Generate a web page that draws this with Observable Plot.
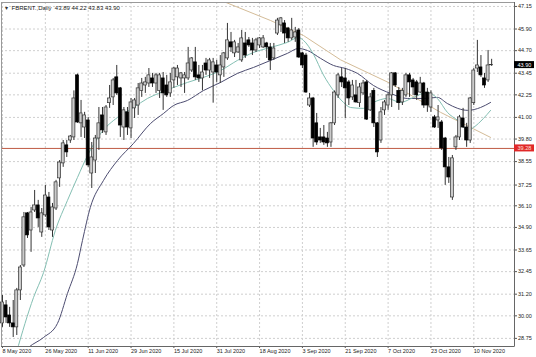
<!DOCTYPE html>
<html><head><meta charset="utf-8">
<script src="https://cdn.jsdelivr.net/npm/d3@7"></script>
<script src="https://cdn.jsdelivr.net/npm/@observablehq/plot@0.6"></script>
<style>body{margin:0;background:#fff;} #chart{width:536px;height:357px;}</style>
</head><body><div id="chart"></div>
<script>
const titleText = "FBRENT.,Daily  43.89 44.22 43.83 43.90";
const openP = [29.58,30.58,30.02,29.58,29.36,31.41,32.79,35.68,34.73,35.84,36.12,34.62,35.57,36.56,34.73,35.95,37.62,38.45,39.45,39.72,
39.89,43.33,40.67,40.44,40.83,37.89,38.61,39.83,41.11,40.17,41.79,42.11,43.22,42.61,40.44,41.28,40.39,41.50,41.66,42.47,
42.77,42.88,43.16,42.88,42.47,43.16,42.77,42.33,43.05,43.22,43.16,43.16,43.16,43.60,44.05,43.33,43.16,43.99,43.60,43.49,
43.88,43.33,43.77,44.27,45.16,44.55,44.60,44.16,45.10,45.27,45.10,44.71,44.99,44.88,45.10,44.88,44.27,45.65,46.10,46.21,
45.93,45.38,45.43,45.82,44.55,44.43,41.66,42.05,40.67,39.89,39.89,39.83,39.61,40.67,42.22,43.22,43.16,42.94,42.11,42.22,
41.79,42.33,42.94,41.39,42.47,40.67,39.72,41.39,41.66,42.22,43.44,42.47,41.83,42.22,43.33,43.05,42.94,42.38,42.88,42.38,
41.55,41.00,40.83,40.72,39.83,38.23,36.56,39.34,39.89,40.94,40.44,39.72,41.79,43.71,43.77,43.16,43.05,43.89];
const highP = [31.13,30.85,30.47,30.85,31.52,32.79,35.73,35.73,36.01,36.95,36.40,35.95,37.23,36.84,36.23,37.51,38.61,39.72,39.72,40.00,
42.47,43.40,41.94,41.28,41.00,39.61,40.00,41.55,41.55,41.66,42.77,43.16,43.88,42.66,41.55,41.55,42.05,42.05,42.88,43.16,
43.22,43.71,43.44,43.44,43.44,43.49,43.33,43.44,43.77,43.88,43.49,43.49,44.88,44.32,44.88,43.88,43.88,44.27,44.27,44.27,
44.16,44.43,44.60,46.21,45.71,45.27,45.10,45.82,45.71,45.43,45.38,45.38,45.43,45.54,45.16,45.10,45.10,46.49,46.54,46.37,
45.99,46.49,45.99,45.93,44.60,44.55,42.33,42.11,41.22,40.39,40.55,40.17,40.72,42.47,43.44,43.71,43.71,43.05,43.05,43.05,
42.88,43.05,43.05,42.33,42.61,40.72,41.55,41.94,42.33,43.49,43.49,42.66,42.61,43.44,43.44,43.16,43.05,43.22,42.94,42.61,
42.47,41.11,41.66,40.83,39.89,38.78,38.89,40.00,41.11,41.50,40.67,42.11,43.71,45.27,44.43,43.44,44.71,44.22];
const lowP = [29.36,29.58,29.36,28.80,28.91,30.85,32.68,34.29,33.52,35.73,34.90,34.35,35.46,34.73,34.35,35.84,37.12,38.23,38.78,39.56,
39.72,40.67,39.89,39.83,38.23,37.06,37.89,39.17,40.11,40.00,41.50,41.66,42.22,39.89,39.72,40.00,39.83,40.94,41.11,42.11,
42.33,42.66,42.66,42.33,42.05,41.39,42.11,42.11,42.61,42.77,42.66,42.33,43.05,43.49,43.05,42.94,42.47,43.33,43.16,41.79,
42.94,42.88,43.22,44.16,44.60,44.32,44.55,44.05,44.27,44.88,44.43,44.60,44.82,44.82,44.27,43.60,44.16,45.54,45.71,45.10,
45.16,45.27,45.16,44.27,43.71,42.33,41.55,39.34,39.45,39.56,39.45,39.34,39.34,40.55,42.05,42.66,40.94,41.66,41.94,41.79,
41.55,42.22,40.83,41.33,40.44,38.78,39.56,41.11,41.39,41.55,42.66,41.39,41.66,42.11,42.11,42.22,41.94,42.33,41.50,41.28,
41.28,40.39,40.39,39.17,37.23,37.34,36.40,39.17,39.72,40.39,39.34,39.56,41.66,43.49,43.22,42.61,42.94,43.83];
const closeP = [30.74,29.91,29.58,29.36,31.41,32.68,35.46,34.46,35.73,36.12,35.40,35.68,36.67,34.90,36.01,37.40,38.50,39.56,39.06,39.94,
42.05,40.72,41.22,41.11,38.34,38.78,39.83,40.67,40.28,41.55,42.05,43.05,42.33,40.55,41.39,40.44,41.83,41.94,42.61,42.88,
42.94,43.33,42.88,43.33,43.33,42.33,42.22,42.94,43.71,43.71,43.44,43.33,43.99,44.27,43.22,43.16,43.49,43.60,44.16,44.05,
43.49,43.88,44.55,45.27,44.88,45.16,44.88,45.38,44.43,44.99,44.71,45.27,45.38,45.38,44.88,44.16,44.82,46.37,46.49,45.65,
45.38,45.82,45.71,44.32,43.88,42.38,42.05,39.83,39.61,39.72,39.61,39.56,40.67,42.38,43.33,42.94,42.61,42.05,42.77,41.83,
42.66,42.88,40.88,42.11,40.67,39.06,41.28,41.83,42.22,43.44,42.77,41.79,42.47,43.33,42.94,42.66,42.22,42.88,41.66,41.66,
42.33,40.44,41.00,39.28,38.23,37.67,38.73,39.89,41.00,40.44,39.72,42.05,43.60,43.88,43.33,42.77,43.88,43.90];

const dateTickIdx = [0,12,24,36,48,60,72,84,96,108,120,132];
const dateTickLabels = ["8 May 2020","26 May 2020","11 Jun 2020","29 Jun 2020","15 Jul 2020","31 Jul 2020","18 Aug 2020","3 Sep 2020","21 Sep 2020","7 Oct 2020","23 Oct 2020","10 Nov 2020"];
const priceTicks = [47.15,45.90,44.70,43.45,42.25,41.00,39.80,38.55,37.25,36.10,34.90,33.65,32.45,31.20,30.00,28.75];

const fastMaIdx = [3.9,8.7,11.5,14.8,18.2,21.0,24.1,27.5,32.2,36.7,40.6,43.7,47.9,51.8,56.3,61.1,65.8,70.3,75.1,79.8,82.9,84.3,87.1,89.9,92.7,95.5,97.5,101.1,103.9,107.8,111.5,115.1,119.0,121.8,124.6,127.5,130.5,131.9,134.7,136.7];
const fastMaVal = [27.97,31.02,32.40,34.73,36.40,37.67,39.00,40.11,41.00,41.55,42.05,42.33,42.66,42.94,43.22,43.60,44.16,44.60,44.88,45.16,45.43,45.27,44.50,43.35,42.49,41.83,41.55,41.50,41.83,42.05,41.83,42.11,42.38,42.05,41.28,40.83,40.28,40.44,40.94,41.39];
const slowMaIdx = [5.5,7.3,11.5,15.4,18.2,21.0,22.4,24.6,28.3,32.2,36.7,41.5,45.1,47.9,51.8,56.3,61.1,65.8,70.3,75.1,79.8,82.9,85.4,89.1,92.7,96.1,99.4,103.9,108.7,113.4,117.9,121.8,124.6,127.5,130.3,133.9,136.7];
const slowMaVal = [27.90,28.25,28.80,29.58,31.24,32.90,34.18,36.01,37.51,38.61,39.56,40.67,41.22,41.66,41.94,42.49,42.94,43.44,43.77,44.16,44.55,44.82,44.71,44.27,43.88,43.71,43.44,42.77,42.33,42.05,42.05,42.11,41.77,41.50,41.39,41.55,41.83];
const trendIdx = [58.3,61.6,75.1,84.3,94.7,108.7,122.7,136.7];
const trendVal = [47.76,47.45,46.37,45.54,44.19,42.88,41.28,39.89];
const levelLine = [39.28];
const lastPrice = [43.90];

const candles = openP.map((o, i) => ({i, open: o, high: highP[i], low: lowP[i], close: closeP[i]}));
const bulls = candles.filter(d => d.close >= d.open);
const bears = candles.filter(d => d.close < d.open);
const fastMa = fastMaIdx.map((x, k) => ({x, y: fastMaVal[k]}));
const slowMa = slowMaIdx.map((x, k) => ({x, y: slowMaVal[k]}));
const trend = trendIdx.map((x, k) => ({x, y: trendVal[k]}));
const xMax = 143.4;

const chart = Plot.plot({
  width: 536, height: 357,
  marginLeft: 1, marginRight: 22, marginTop: 2, marginBottom: 11,
  style: {fontFamily: "'Liberation Sans', Arial, sans-serif", fontSize: "5.5px", background: "#fff", color: "#222"},
  x: {domain: [-0.28, xMax], axis: null},
  y: {domain: [28.30, 47.37], axis: null},
  marks: [
    Plot.gridX(dateTickIdx, {stroke: "#cfcfcf", strokeOpacity: 1, strokeDasharray: "2,2"}),
    Plot.gridY(priceTicks, {stroke: "#cfcfcf", strokeOpacity: 1, strokeDasharray: "2,2"}),
    Plot.ruleY(levelLine, {stroke: "#bf5a44", strokeWidth: 1}),
    Plot.line(trend, {x: "x", y: "y", stroke: "#d4bc98", strokeWidth: 1, clip: true}),
    Plot.line(slowMa, {x: "x", y: "y", stroke: "#4c4c70", strokeWidth: 1, clip: true, curve: "monotone-x"}),
    Plot.line(fastMa, {x: "x", y: "y", stroke: "#84bfb3", strokeWidth: 1, clip: true, curve: "monotone-x"}),
    Plot.ruleX(candles, {x: "i", y1: "low", y2: "high", stroke: "#333", strokeWidth: 1}),
    Plot.rect(bulls, {x1: d => d.i - 0.42, x2: d => d.i + 0.42, y1: "open", y2: "close", fill: "#cbcbcb", stroke: "#333", strokeWidth: 0.7}),
    Plot.rect(bears, {x1: d => d.i - 0.42, x2: d => d.i + 0.42, y1: "open", y2: "close", fill: "#000", stroke: "#000", strokeWidth: 0.7}),
    Plot.frame({stroke: "#9a9a9a"}),
    Plot.axisY({anchor: "right", ticks: priceTicks, tickFormat: d3.format(".2f"), tickSize: 2, tickPadding: 1.5, stroke: "#555"}),
    Plot.axisX({anchor: "bottom", ticks: dateTickIdx, tickFormat: d => dateTickLabels[dateTickIdx.indexOf(d)], tickSize: 2, tickPadding: 1, textAnchor: "start", dx: 0, stroke: "#555"}),
    Plot.ruleX([xMax], {stroke: "#666"}),
    Plot.ruleY([28.30], {stroke: "#666"}),
    Plot.rect(lastPrice, {x1: xMax, x2: xMax, y1: d => d, y2: d => d, insetRight: -20, insetTop: -3.5, insetBottom: -3.5, fill: "#000"}),
    Plot.text(lastPrice, {x: xMax, y: d => d, text: d => d3.format(".2f")(d), dx: 3, textAnchor: "start", fill: "#fff", fontSize: 5.5}),
    Plot.rect(levelLine, {x1: xMax, x2: xMax, y1: d => d, y2: d => d, insetRight: -20, insetTop: -3.5, insetBottom: -3.5, fill: "#e02828"}),
    Plot.text(levelLine, {x: xMax, y: d => d, text: d => d3.format(".2f")(d), dx: 3, textAnchor: "start", fill: "#ffe0d8", fontSize: 5.5}),
    Plot.text(["▾"], {frameAnchor: "top-left", dx: 3, dy: 3, textAnchor: "start", lineAnchor: "top", fontSize: 6, fill: "#333"}),
    Plot.text([titleText], {frameAnchor: "top-left", dx: 10, dy: 3.5, textAnchor: "start", lineAnchor: "top", fontSize: 6, fill: "#222"})
  ]
});
document.getElementById("chart").append(chart);
</script>
</body></html>
